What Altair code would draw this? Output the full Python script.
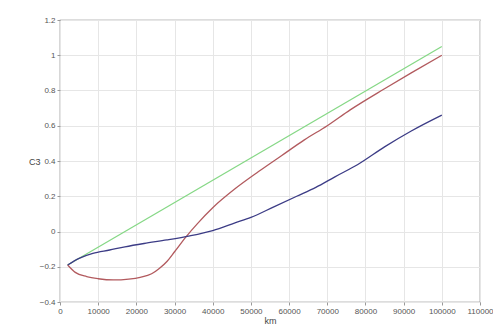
import altair as alt
import pandas as pd

green_x = [2000, 100000]
green_y = [-0.19, 1.05]

red_x = [2000, 4000, 7000, 10000, 14000, 18000, 21000, 24000, 26000, 28000, 30000, 33000, 36000,
         40000, 46000, 52000, 58000, 64000, 70000, 76000, 85000, 92000, 100000]
red_y = [-0.19, -0.232, -0.256, -0.268, -0.275, -0.27, -0.26, -0.24, -0.21, -0.17, -0.115, -0.03, 0.045,
         0.135, 0.245, 0.34, 0.43, 0.52, 0.6, 0.69, 0.81, 0.9, 1.0]

blue_x = [2000, 5000, 8600, 13000, 17000, 22000, 28000, 34000, 40000, 46000, 50000,
          56000, 62000, 67000, 72000, 78000, 85000, 92000, 100000]
blue_y = [-0.19, -0.152, -0.124, -0.105, -0.087, -0.068, -0.048, -0.025, 0.005, 0.05, 0.08,
          0.14, 0.2, 0.25, 0.31, 0.38, 0.48, 0.57, 0.66]

x_ticks = list(range(0, 110001, 10000))
y_ticks = [-0.4, -0.2, 0, 0.2, 0.4, 0.6, 0.8, 1.0, 1.2]

series = ["green", "red", "blue"]
colors = ["#86d886", "#b25a5e", "#3c3c86"]

rows = []
for name, xs, ys in [("green", green_x, green_y), ("red", red_x, red_y), ("blue", blue_x, blue_y)]:
    for i, (a, b) in enumerate(zip(xs, ys)):
        rows.append({"s": name, "km": a, "C3": b, "o": i})
df = pd.DataFrame(rows)

chart = alt.Chart(df).mark_line(strokeWidth=1.3, interpolate="monotone").encode(
    x=alt.X("km:Q", scale=alt.Scale(domain=[0, 110000], nice=False),
            axis=alt.Axis(values=x_ticks, format="d", title="km", labelOverlap=False,
                          labelFlush=False)),
    y=alt.Y("C3:Q", scale=alt.Scale(domain=[-0.4, 1.2], nice=False),
            axis=alt.Axis(values=y_ticks, format="~g", title="C3", titleAngle=0, titleAlign="right",
                          titleBaseline="middle", titleY=141, titleX=-20, labelOverlap=False,
                          labelFlush=False)),
    color=alt.Color("s:N", scale=alt.Scale(domain=series, range=colors), legend=None),
    order="o:Q",
).properties(
    width=420, height=282,
    autosize=alt.AutoSizeParams(type="none"),
    padding={"left": 52, "top": 12, "right": 13, "bottom": 25},
).configure_view(
    stroke="#7a7a7a", strokeWidth=1.2
).configure_axis(
    labelFont="Liberation Sans", labelFontSize=8, labelColor="#555",
    titleFont="Liberation Sans", titleFontSize=9, titleColor="#444", titleFontWeight="normal",
    gridColor="#e6e6e6", gridWidth=1, domain=False, tickColor="#999", tickSize=3,
    labelPadding=2,
).configure_axisX(titlePadding=1)

chart.save("out.html", embed_options={"renderer": "svg", "actions": False})
